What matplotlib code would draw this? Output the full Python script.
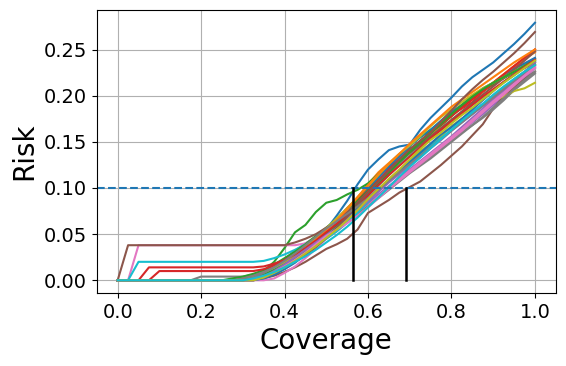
import numpy as np
import matplotlib
matplotlib.use("Agg")
import matplotlib.pyplot as plt

# coverage grid (41 points, step 0.025)
coverage = [i / 40 for i in range(41)]

# risk curves, in units of 1/1000
c00 = [0,0,0,0,0,0,0,0,0,0, 0,0,0,3,8,14,20,27,35,44, 55,70,86,104,120,131,141,145,147,163, 176,187,198,210,220,228,236,246,256,267, 279]
c01 = [0,0,0,0,0,0,0,0,0,0, 0,0,2,5,9,14,20,28,36,45, 55,66,78,90,104,117,127,137,143,147, 158,168,178,188,197,205,214,223,232,241, 250]
c02 = [0,0,0,0,0,0,0,0,0,0, 0,0,0,4,10,20,35,52,60,74, 84,87,93,98,105,115,125,136,146,155, 163,172,181,189,197,205,212,219,226,233, 240]
c03 = [0,0,0,0,0,0,0,0,0,0, 0,0,0,2,6,12,18,26,35,45, 55,66,78,88,100,113,122,131,142,149, 158,170,180,186,193,204,213,220,230,240, 248]
c04 = [0,0,0,0,0,0,0,0,0,0, 0,0,1,4,9,15,23,32,40,47, 53,58,64,72,82,92,101,112,120,128, 137,145,152,162,171,180,190,199,209,219, 230]
c05 = [0,0,0,0,0,0,0,0,0,0, 0,0,0,0,2,5,9,14,20,27, 34,39,45,55,73,80,87,95,101,107, 116,125,135,145,157,169,186,199,210,218, 226]
c06 = [0,0,38,38,38,38,38,38,38,38, 38,38,38,38,38,38,38,38,40,44, 50,57,66,76,87,98,109,119,129,139, 148,157,166,175,183,191,199,207,215,223, 231]
c07 = [0,0,0,0,0,0,0,0,4,4, 4,4,4,6,10,15,21,28,36,44, 53,60,67,75,83,92,101,109,118,126, 134,142,151,160,168,176,185,195,206,215, 224]
c08 = [0,0,0,0,0,0,0,0,0,0, 0,0,0,2,5,10,16,23,31,39, 48,56,66,77,86,97,109,118,129,140, 147,156,167,175,181,190,195,199,205,208, 214]
c09 = [0,0,20,20,20,20,20,20,20,20, 20,20,20,20,21,24,28,33,39,46, 54,62,71,81,92,103,114,125,135,145, 154,163,172,181,190,198,206,214,222,230, 237]
c10 = [0,0,0,0,0,0,0,0,0,0, 0,0,0,1,4,9,15,22,30,38, 47,58,70,84,98,111,123,134,145,155, 163,173,183,190,199,208,214,222,229,235, 241]
c11 = [0,0,0,0,0,0,0,0,0,0, 0,0,0,0,3,8,14,21,29,38, 48,58,70,83,96,108,118,128,138,148, 158,168,178,187,196,205,214,223,232,240, 247]
c12 = [0,0,0,0,0,0,0,0,0,0, 0,2,4,7,11,17,24,31,39,48, 57,66,77,86,97,108,118,130,141,151, 161,168,178,188,198,207,213,219,225,230, 236]
c13 = [0,0,0,0,10,10,10,10,10,10, 10,10,10,10,12,16,21,27,34,42, 51,61,72,84,96,108,120,131,141,151, 160,169,178,187,196,205,214,223,232,241, 250]
c14 = [0,0,0,0,0,0,0,0,0,0, 0,0,0,3,7,12,19,27,35,44, 53,60,67,75,84,93,102,111,120,129, 138,147,156,166,176,186,196,205,214,223, 233]
c15 = [0,38,38,38,38,38,38,38,38,38, 38,38,38,38,38,38,38,41,45,50, 57,65,74,84,95,106,117,128,138,147, 156,165,174,183,192,201,210,219,228,238, 248]
c16 = [0,0,0,0,0,0,0,0,0,0, 0,0,0,0,0,2,8,15,24,34, 45,53,62,71,81,91,101,110,119,128, 137,146,155,164,174,184,194,203,213,222, 232]
c17 = [0,0,0,0,0,0,0,0,0,0, 0,0,2,5,9,14,20,27,34,42, 50,57,64,72,80,89,98,107,116,124, 132,141,150,159,168,177,187,197,207,217, 226]
c18 = [0,0,0,0,0,0,0,0,0,0, 0,0,0,3,7,13,20,28,37,46, 56,67,78,90,102,114,126,137,146,156, 167,177,185,193,201,208,214,220,226,232, 238]
c19 = [0,0,0,0,0,0,0,0,0,0, 0,0,0,2,6,11,17,23,30,37, 45,53,63,73,85,97,107,118,128,137, 146,154,163,172,182,191,200,209,218,226, 234]
c20 = [0,0,0,0,0,0,0,0,0,0, 0,0,0,0,2,6,12,19,28,38, 49,59,69,79,89,99,109,118,128,138, 148,158,166,175,185,195,205,215,223,231, 240]
c21 = [0,0,0,0,0,0,0,0,0,0, 0,0,0,2,5,10,17,25,34,44, 54,65,77,90,103,115,126,137,148,158, 168,178,188,196,204,212,220,228,236,243, 250]
c22 = [0,0,0,0,0,0,0,0,0,0, 0,0,0,2,6,11,17,24,32,41, 50,60,71,82,93,104,116,128,139,149, 159,170,180,190,199,207,214,220,226,232, 238]
c23 = [0,0,0,14,14,14,14,14,14,14, 14,14,14,14,15,18,22,28,35,43, 52,61,71,81,92,103,114,124,134,144, 154,163,172,181,190,199,207,215,223,231, 239]
c24 = [0,0,0,0,0,0,0,0,0,0, 0,0,0,0,4,10,17,25,33,41, 49,57,66,76,86,96,106,115,124,133, 143,152,162,171,180,189,198,207,216,226, 236]
c25 = [0,0,0,0,0,0,0,0,0,0, 0,0,0,2,5,9,14,20,27,36, 46,57,69,82,95,107,119,131,142,151, 160,172,184,196,207,217,226,236,246,257, 269]
c26 = [0,0,0,0,0,0,0,0,0,0, 0,0,0,1,4,9,15,22,30,39, 48,55,62,70,79,89,99,108,117,126, 135,144,153,162,172,182,192,201,211,221, 230]
c27 = [0,0,0,0,0,0,0,0,0,0, 0,0,0,3,8,14,21,29,38,47, 56,64,72,80,89,98,108,117,126,135, 144,153,162,171,180,189,198,207,216,225, 234]
c28 = [0,0,0,0,0,0,0,0,0,0, 0,0,0,0,3,8,14,21,29,37, 46,55,65,76,88,99,110,120,131,142, 152,160,170,179,187,196,205,214,222,230, 238]
c29 = [0,0,0,0,0,0,0,0,0,0, 0,0,0,2,5,9,14,20,26,33, 41,49,58,68,79,90,101,112,123,133, 143,153,163,173,182,191,201,210,218,226, 233]

curves = [c00, c01, c02, c03, c04, c05, c06, c07, c08, c09,
          c10, c11, c12, c13, c14, c15, c16, c17, c18, c19,
          c20, c21, c22, c23, c24, c25, c26, c27, c28, c29]

target_risk = 0.1
vline_x = [0.565, 0.69]

fig = plt.figure(figsize=(5.66, 3.66), dpi=100)
ax = fig.add_axes([0.171, 0.199, 0.811, 0.774])

x = np.array(coverage)
for c in curves:
    ax.plot(x, np.array(c) / 1000.0, lw=1.5)

ax.axhline(target_risk, ls='--', color='C0', lw=1.5)
for vx in vline_x:
    ax.plot([vx, vx], [0, target_risk], color='black', lw=1.8)

ax.grid(True)
ax.set_xlabel('Coverage', fontsize=20)
ax.set_ylabel('Risk', fontsize=20)
ax.tick_params(labelsize=14)
ax.set_yticks([0.0, 0.05, 0.10, 0.15, 0.20, 0.25])
ax.set_xticks([0.0, 0.2, 0.4, 0.6, 0.8, 1.0])

fig.savefig('out.png', dpi=100)
